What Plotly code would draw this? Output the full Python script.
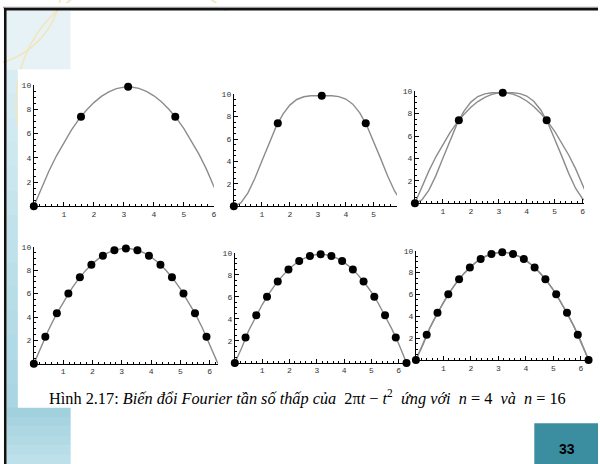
import plotly.graph_objects as go

W, H = 600, 464

# ---------------- data ----------------
t_curve = [0, 0.25, 0.5, 0.75, 1.0, 1.25, 1.5, 1.75, 2.0, 2.25, 2.5, 2.75, 3.0,
           3.25, 3.5, 3.75, 4.0, 4.25, 4.5, 4.75, 5.0, 5.25, 5.5, 5.75, 6.0, 6.25, 6.2832]
parabola = [0, 1.51, 2.89, 4.15, 5.28, 6.29, 7.18, 7.93, 8.57, 9.08, 9.46, 9.72, 9.85,
            9.86, 9.74, 9.50, 9.13, 8.64, 8.02, 7.28, 6.42, 5.42, 4.31, 3.07, 1.70, 0.21, 0.0]
lowpass_n4 = [0, 0.30, 1.17, 2.47, 4.02, 5.60, 7.04, 8.20, 9.03, 9.53, 9.77, 9.86, 9.87,
              9.87, 9.86, 9.79, 9.57, 9.11, 8.33, 7.21, 5.80, 4.23, 2.67, 1.32, 0.39, 0.01, 0.0]
lowpass_n16 = [0, 1.35, 2.90, 4.15, 5.28, 6.29, 7.18, 7.93, 8.57, 9.08, 9.46, 9.72, 9.85,
               9.86, 9.74, 9.50, 9.13, 8.64, 8.02, 7.28, 6.42, 5.42, 4.31, 3.07, 1.72, 0.15, 0.0]

t_n4 = [0, 1.5708, 3.1416, 4.7124]
v_n4 = [0, 7.40, 9.87, 7.40]
t_n16 = [0, 0.3927, 0.7854, 1.1781, 1.5708, 1.9635, 2.3562, 2.7489, 3.1416,
         3.5343, 3.9270, 4.3197, 4.7124, 5.1051, 5.4978, 5.8905, 6.2832]
v_n16 = [0, 2.31, 4.32, 6.01, 7.40, 8.48, 9.25, 9.72, 9.87,
         9.72, 9.25, 8.48, 7.40, 6.01, 4.32, 2.31, 0]

x_ticks_full = [1, 2, 3, 4, 5, 6]
x_ticks_short = [1, 2, 3, 4, 5]
y_ticks = [2, 4, 6, 8, 10]

caption = ("Hình 2.17: <i>Biến đổi Fourier tần số thấp của</i>\u00a0 2π<i>t</i> − <i>t</i><sup>2</sup>"
           "\u00a0 <i>ứng với</i>\u00a0 <i>n</i> = 4\u00a0 <i>và</i>\u00a0 <i>n</i> = 16")
page_number = "33"

# ---------------- helpers ----------------
def px(x):
    return x / W

def py(y):
    return 1 - y / H

def rect(x0, y0, x1, y1, color, layer="below"):
    return dict(type="rect", xref="paper", yref="paper",
                x0=px(x0), x1=px(x1), y0=py(y1), y1=py(y0),
                fillcolor=color, line_width=0, layer=layer)

def circle(cx, cy, r, color, width=1.5):
    return dict(type="circle", xref="paper", yref="paper",
                x0=px(cx - r), x1=px(cx + r), y0=py(cy + r), y1=py(cy - r),
                line=dict(color=color, width=width), fillcolor="rgba(0,0,0,0)", layer="below")

def hex2rgb(h):
    h = h.lstrip("#")
    return [int(h[i:i + 2], 16) for i in (0, 2, 4)]

def gradient(x0, y0, x1, y1, c0, c1, n):
    a, b = hex2rgb(c0), hex2rgb(c1)
    out = []
    for k in range(n):
        f = k / max(n - 1, 1)
        c = "rgb(%d,%d,%d)" % tuple(round(a[j] + (b[j] - a[j]) * f) for j in range(3))
        ya = y0 + (y1 - y0) * k / n
        yb = y0 + (y1 - y0) * (k + 1) / n + 0.5
        out.append(rect(x0, ya, x1, yb, c))
    return out

# ---------------- panels ----------------
panels = [
    dict(box=(34, 215, 82, 204), xr=[0, 6], curves=[parabola], pts=(t_n4, v_n4), xt=x_ticks_full, ms=8),
    dict(box=(235, 399, 91, 204), xr=[0, 5.83], curves=[lowpass_n4], pts=(t_n4, v_n4), xt=x_ticks_short, ms=8),
    dict(box=(417, 587, 88, 201), xr=[0, 6.05], curves=[parabola, lowpass_n4], pts=(t_n4, v_n4), xt=x_ticks_full, ms=8),
    dict(box=(34, 219, 245, 363), xr=[0, 6.28], curves=[parabola], pts=(t_n16, v_n16), xt=x_ticks_full, ms=8),
    dict(box=(236, 409, 251, 362), xr=[0, 6.3], curves=[lowpass_n16], pts=(t_n16, v_n16), xt=x_ticks_full, ms=8),
    dict(box=(418, 592, 249, 359), xr=[0, 6.3], curves=[parabola, lowpass_n16], pts=(t_n16, v_n16), xt=x_ticks_full, ms=8),
]

fig = go.Figure()
layout = dict(width=W, height=H, margin=dict(l=0, r=0, t=0, b=0),
              paper_bgcolor="white", plot_bgcolor="rgba(0,0,0,0)", showlegend=False)

tickfont = dict(family="Liberation Mono", size=8, color="#333")

for i, p in enumerate(panels, start=1):
    xn = "x" if i == 1 else f"x{i}"
    yn = "y" if i == 1 else f"y{i}"
    x0, x1, ytop, ybot = p["box"]
    for c in p["curves"]:
        fig.add_trace(go.Scatter(x=t_curve, y=c, mode="lines", xaxis=xn, yaxis=yn,
                                 line=dict(color="#8c8c8c", width=1.4), hoverinfo="skip"))
    tx, vy = p["pts"]
    fig.add_trace(go.Scatter(x=tx, y=vy, mode="markers", xaxis=xn, yaxis=yn, cliponaxis=False,
                             marker=dict(color="black", size=p["ms"], symbol="circle",
                                         line=dict(width=0))))
    layout["xaxis" if i == 1 else f"xaxis{i}"] = dict(
        domain=[px(x0), px(x1)], range=p["xr"], anchor=yn,
        showline=True, linecolor="black", linewidth=1, mirror=False,
        ticks="inside", ticklen=4, tickwidth=1, tickcolor="black",
        tickmode="array", tickvals=p["xt"], ticktext=[str(v) for v in p["xt"]],
        tickfont=tickfont, showgrid=False, zeroline=False,
        minor=dict(ticks="inside", ticklen=2, tickwidth=1, tickcolor="black",
                   tick0=0, dtick=0.2, showgrid=False))
    layout["yaxis" if i == 1 else f"yaxis{i}"] = dict(
        domain=[py(ybot), py(ytop)], range=[0, 10], anchor=xn,
        showline=True, linecolor="black", linewidth=1, mirror=False,
        ticks="inside", ticklen=4, tickwidth=1, tickcolor="black",
        tickmode="array", tickvals=y_ticks, ticktext=[str(v) for v in y_ticks],
        tickfont=tickfont, showgrid=False, zeroline=False,
        minor=dict(ticks="inside", ticklen=2, tickwidth=1, tickcolor="black",
                   tick0=0, dtick=0.5, showgrid=False))

# ---------------- slide decoration ----------------
shapes = []
shapes.append(rect(7, 7, 71, 66, "#e7f2f7"))
shapes += gradient(7, 66, 18, 407, "#d8edf3", "#a9d6e2", 14)
shapes += gradient(7, 407, 71, 464, "#a2d1de", "#bde0ea", 6)
shapes.append(circle(-20, -20, 82, "#f3e5b9"))
shapes.append(circle(142, 100, 126, "#f3e5b9"))
# white covers to clip the arcs
shapes.append(rect(71, 7, 601, 66, "white"))
shapes.append(rect(18, 66, 601, 407, "white"))
shapes.append(rect(-1, -1, 3, 465, "white"))
shapes.append(rect(-1, -1, 601, 3, "white"))
# borders
shapes.append(rect(3, 2.7, 601, 4.2, "#9a9a9a"))
shapes.append(rect(4, 4, 601, 6.6, "#111111"))
shapes.append(rect(4, 4, 6.6, 465, "#111111"))
# page number box
shapes.append(rect(537, 423, 601, 465, "#3a8ea0"))
layout["shapes"] = shapes

layout["annotations"] = [
    dict(text=caption, xref="paper", yref="paper", x=px(47), y=py(397),
         xanchor="left", yanchor="middle", showarrow=False,
         font=dict(family="Liberation Serif", size=16.3, color="black")),
    dict(text="<b>" + page_number + "</b>", xref="paper", yref="paper", x=px(570), y=py(449),
         xanchor="center", yanchor="middle", showarrow=False,
         font=dict(family="Liberation Sans", size=14, color="black")),
]

fig.update_layout(**layout)
fig.write_html("out.html", config={"displayModeBar": False},
               post_script="document.body.style.margin='0';document.body.style.padding='0';")
